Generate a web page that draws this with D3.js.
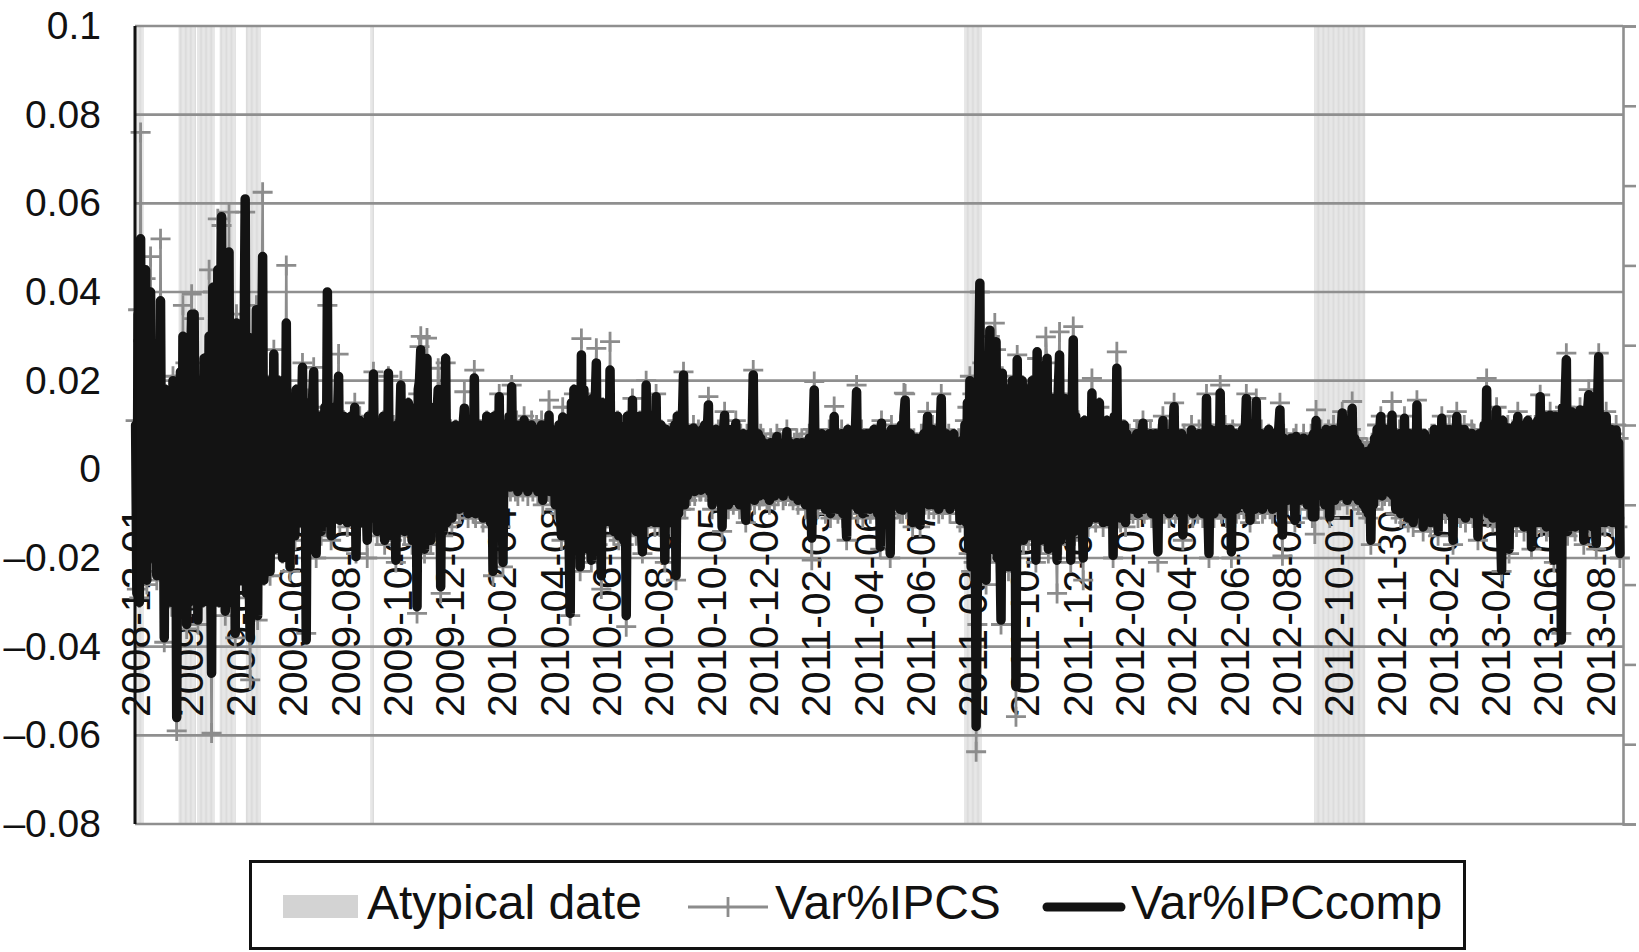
<!DOCTYPE html>
<html><head><meta charset="utf-8">
<script src="https://cdn.jsdelivr.net/npm/d3@7"></script>
<style>
body{margin:0;background:#fff}
svg{display:block}
text{font-family:"Liberation Sans",Arial,Helvetica,sans-serif;fill:#111}
</style>
</head><body>
<svg id="chart" width="1639" height="952"></svg>
<script>
// ---- tick labels (one every 42 trading days) ----
const tickLabels = ["2008-12-01","2009-02-03","2009-04-03","2009-06-05","2009-08-04","2009-10-02","2009-12-03",
"2010-02-04","2010-04-08","2010-06-07","2010-08-04","2010-10-05","2010-12-06","2011-02-03","2011-04-06",
"2011-06-07","2011-08-04","2011-10-04","2011-12-05","2012-02-01","2012-04-03","2012-06-05","2012-08-02",
"2012-10-01","2012-11-30","2013-02-01","2013-04-05","2013-06-05","2013-08-02"];
const tickEvery = 42;
const yTicks = [0.1,0.08,0.06,0.04,0.02,0,-0.02,-0.04,-0.06,-0.08];
const legendLabels = ["Atypical date","Var%IPCS","Var%IPCcomp"];

// trading-day indices flagged as atypical
const atypicalDays = [0,1,2,3,4,5,6,
35,36,37,38,39,40,41,42,43,44,45,46,47,48,50,51,52,53,54,55,56,57,58,59,60,61,62,63,
68,69,70,71,72,73,74,75,76,77,78,79,80,
89,90,91,92,93,94,95,96,97,98,99,100,
189,190,191,
666,667,668,669,670,671,672,673,674,675,676,677,678,679,
947,948,949,950,951,952,953,954,955,956,957,958,959,960,961,962,963,964,965,966,967,968,969,970,
971,972,973,974,975,976,977,978,979,980,981,982,983,984,985,986,987];

// Var%IPCcomp (daily)
const ipcComp = [
.010,-.028,.035,-.030,.052,-.022,.030,
-.018,.045,-.025,.028,-.015,.040,-.020,
.012,-.010,.020,-.024,.015,-.012,.038,
-.020,.010,-.038,.018,-.015,.008,-.025,
.012,-.030,.020,-.018,.015,-.056,.014,
-.028,.022,-.032,.030,-.020,.025,-.035,
.018,-.030,.022,.035,-.025,.035,-.020,
.015,-.034,.020,-.028,.012,-.030,.025,
-.022,.018,-.027,.030,-.015,-.046,.041,
-.020,.030,-.025,.045,-.030,.020,.057,
-.028,.035,-.032,.025,-.020,.049,-.030,
.028,-.025,.020,-.037,.033,-.018,.015,
-.025,.030,-.020,.025,.061,-.028,.030,
-.022,-.038,.028,-.020,.025,-.015,.036,
-.033,.022,-.018,.020,.048,-.025,.018,
-.015,.020,-.012,-.023,.015,-.010,.026,
-.018,.015,-.012,.020,-.015,.010,-.020,
.018,-.012,.033,-.015,.012,-.022,.015,
-.010,.012,-.015,.018,-.008,.010,-.012,
.008,.023,-.010,.012,-.0385,.015,-.008,
.012,-.010,.015,.022,-.012,-.019,.010,
-.008,.012,-.014,.009,-.010,.014,-.012,
.040,-.010,.012,-.015,.008,-.010,.014,
-.008,.010,.021,-.0115,.008,-.010,.012,
-.008,.010,-.012,.008,-.006,.012,-.010,
.006,.014,-.0197,.009,-.008,.011,-.012,
.007,-.009,.010,-.006,-.016,.012,-.008,
.010,-.011,.0215,-.009,.008,-.014,.010,
-.012,.009,-.007,.012,-.016,.008,-.010,
.0217,-.012,.010,-.015,.009,-.008,-.0205,
.010,-.012,.008,.019,-.010,.012,-.014,
.009,-.011,.015,-.008,.012,-.016,.010,
-.012,.014,-.031,.018,.020,.027,-.015,
.012,-.018,.010,.025,-.014,.012,-.016,
.009,-.012,.014,-.010,.012,.018,.0145,
-.0265,.012,-.014,.010,.025,-.012,.010,
-.008,.009,-.011,.007,-.006,.010,-.008,
.006,-.009,.008,-.007,.010,.0138,-.008,
.007,-.010,.009,-.006,.011,-.009,.0206,
-.010,.008,-.007,.010,-.009,.006,-.011,
.009,-.008,.012,-.010,.007,-.012,.010,
-.023,.012,-.010,.008,-.014,.0164,-.012,
.008,-.021,.010,-.004,.009,-.003,.012,
-.004,.0186,-.003,.008,-.004,.010,-.005,
.006,-.002,.009,-.004,.0111,-.003,.007,
-.005,.008,-.002,.010,-.004,.006,-.003,
.009,-.005,.007,-.004,.010,-.007,.006,
-.003,.008,-.004,.0122,-.005,.007,-.004,
.006,-.008,.009,-.006,.010,-.009,-.015,
.0118,-.010,.008,-.012,.010,-.014,-.0325,
.015,-.012,.018,-.016,.012,-.010,.014,
-.022,.0258,-.015,.018,-.012,.015,-.018,
.012,-.010,-.0205,.016,-.012,.014,.024,
-.016,.012,-.010,-.024,.015,-.012,.010,
-.010,.012,-.008,.0224,-.012,.010,-.014,
.008,-.010,.012,-.015,.006,-.012,.0096,
-.016,.008,-.033,.012,-.010,.008,-.012,
.0156,-.010,.009,-.014,.011,-.008,.012,
-.012,-.0186,.010,-.009,.019,-.012,.008,
-.010,.012,-.008,.010,-.012,.0164,-.010,
.008,-.012,.010,-.008,.006,-.0205,.009,
-.010,.005,.0059,-.012,.008,-.009,.010,
-.024,.012,-.010,.008,-.008,.010,.0213,
-.008,.007,-.006,.009,-.005,.006,-.004,
.0093,-.005,.007,-.003,.008,-.004,-.0047,
.009,-.003,.010,-.004,.008,.0145,-.005,
.006,-.008,.007,-.006,.009,-.005,.008,
-.007,.005,-.013,.008,.0122,-.006,.007,
-.008,.006,-.005,.009,-.007,.006,.0104,
-.006,.005,-.008,.007,-.004,.008,-.006,
-.0115,.007,-.005,.008,-.006,.006,.0213,
-.007,.006,-.005,.008,-.006,.007,-.005,
.006,-.005,.005,-.006,.004,-.007,.006,
-.004,.005,-.006,.004,.0074,-.005,.006,
-.004,.005,-.006,.004,-.005,.0085,-.004,
.006,-.005,.004,-.006,.005,-.004,.006,
-.007,.005,-.004,.006,-.005,.004,-.008,
.006,-.005,.007,-.006,-.0155,.008,.0179,
-.006,.007,-.008,.005,-.006,.008,-.007,
.006,-.009,.007,-.005,.008,-.010,.006,
-.007,.0119,-.008,.006,-.009,.007,-.006,
.008,-.010,.006,-.008,-.0152,.009,-.007,
.006,-.008,.007,-.006,.008,.0175,-.009,
.007,-.006,.008,-.010,.006,-.007,.008,
-.007,.008,-.009,.006,-.008,.009,-.006,
.007,-.010,.008,-.0175,.0104,-.008,.007,
-.009,.006,-.010,.008,-.019,.009,-.007,
.008,-.006,.009,-.008,.007,-.009,.010,
-.0092,.012,.0156,-.008,.007,-.006,.008,
-.007,-.012,.006,-.008,.007,-.006,.005,
-.0126,.007,-.006,.008,-.007,.006,.0119,
-.008,.007,-.006,.009,-.008,.006,-.007,
.008,-.009,.007,.016,-.008,.006,-.007,
.008,-.006,.007,-.009,.006,-.007,.008,
-.006,.005,-.008,.006,-.0115,.005,.0066,
-.008,.010,-.012,.015,-.018,.020,-.022,
.018,-.020,.015,-.058,-.025,.022,.042,
-.020,.025,-.018,.020,-.025,.015,-.012,
.0314,-.018,.020,-.015,.022,.0288,-.020,
.018,-.015,-.034,.0217,-.018,.015,-.020,
.018,-.022,.012,-.015,.020,-.018,.015,
-.049,.0247,-.015,.018,-.012,.020,-.016,
.015,-.012,.018,-.015,.012,-.010,.020,
-.014,.016,-.0205,.0265,-.012,.014,-.016,
.018,-.010,.015,.022,.025,-.018,.012,
-.015,.016,-.012,.014,-.010,-.0205,.018,
.0258,-.016,.012,-.014,.016,-.012,.010,
-.015,.014,-.0205,.012,.0292,-.014,.012,
-.010,.010,-.012,.008,-.009,-.020,.011,
-.010,.009,-.012,.008,-.010,.0172,-.009,
.010,-.011,.008,-.008,.015,-.010,.009,
-.012,.008,-.009,.011,-.010,.008,-.012,
.010,-.0194,.012,-.008,.0228,-.010,.009,
-.011,.008,-.009,.010,-.012,.008,-.009,
.007,-.008,.006,-.009,.007,-.006,.008,
-.010,.006,-.007,.008,.0104,-.009,.006,
-.008,.007,-.006,.008,-.010,.006,-.007,
.008,-.009,-.0186,.007,-.008,.006,.011,
-.009,.007,-.006,.008,-.010,.006,-.007,
.008,.0141,-.009,.007,-.008,.006,-.010,
.008,-.0148,.007,-.008,.006,-.009,.007,
-.006,.0089,-.010,.006,-.008,.007,-.009,
.008,-.007,.006,-.010,.008,-.007,.016,
-.008,-.019,.009,-.008,.007,-.010,.008,
-.007,.009,-.008,.0172,-.009,.008,-.007,
.009,-.010,.007,-.008,.009,-.0186,.008,
-.007,.008,-.009,.006,-.008,.007,-.006,
.009,-.008,.007,.016,-.009,.007,-.0115,
.008,-.007,.006,-.009,.0153,-.008,.007,
-.006,.008,-.009,.007,-.008,.006,-.007,
.009,-.008,.006,-.009,.008,-.007,.006,
-.008,.009,.0134,-.008,-.0148,.007,-.006,
.006,-.007,.005,-.006,.007,-.005,.006,
-.0115,.0074,-.006,.005,-.007,.006,-.005,
.007,-.006,.005,-.008,.006,-.005,.007,
-.0107,.008,-.0107,.011,-.006,.007,-.005,
.008,-.006,.007,-.008,.009,-.006,.008,
-.0107,.007,-.006,.009,-.007,.008,-.006,
.007,-.006,.008,.0127,-.005,.007,-.004,
-.007,.009,-.005,.008,.0137,-.006,.007,
-.005,.006,-.007,.005,-.006,.004,-.008,
.003,-.009,.004,-.010,.003,-.016,.005,
-.008,.007,-.006,.009,-.005,.008,.0119,
-.006,.007,-.005,.009,-.004,.008,-.005,
-.0054,.0122,-.006,.008,-.009,.006,-.007,
.008,-.010,.007,-.008,.0115,-.009,.006,
-.011,.008,-.007,.006,-.012,.008,-.009,
.0145,-.010,.007,-.008,.006,-.013,.008,
-.009,.005,-.011,.0066,-.012,.007,-.008,
.009,-.010,.006,-.014,.008,-.009,.0115,
-.008,.007,-.009,.008,-.007,.009,-.010,
.006,-.016,.008,-.007,.0119,-.009,.007,
-.010,.008,-.006,.009,-.011,.007,-.008,
.006,-.009,.0081,-.010,.007,-.008,.006,
-.0152,.008,-.009,.007,-.008,.010,-.009,
.0179,-.010,.008,-.009,.010,-.011,.009,
-.010,.0134,-.009,.010,-.012,-.0227,.011,
-.010,.008,-.012,.0093,-.018,.009,-.011,
.008,-.010,.010,-.012,.0119,-.010,.009,
-.011,.008,-.013,.010,-.009,.011,-.012,
.009,-.0175,.010,-.011,.009,-.012,.011,
-.010,.0164,-.012,.010,-.011,.012,-.013,
.010,-.012,.0122,-.010,.011,-.0205,.012,
-.011,.010,-.013,.012,-.0385,.014,-.012,
.015,.0247,-.014,.012,-.010,.013,-.012,
.011,-.013,.012,-.010,.011,.0134,-.012,
.010,-.016,.012,-.011,.013,.0168,-.012,
.011,-.013,.012,-.010,-.0167,.014,.0254,
-.012,.010,-.011,.009,-.012,.0119,-.010,
.008,-.011,.009,-.012,.007,-.010,.0089,
-.012,.006,-.019
];

// Var%IPCS (daily)
const ipcs = [
.011,-.027,.036,-.029,.076,-.023,.029,
-.019,.043,-.026,.027,-.016,.048,-.019,
.013,-.009,.019,-.025,.016,-.011,.052,
-.021,.009,-.039,.017,-.016,.009,-.024,
.011,-.031,.021,-.017,.014,-.059,.015,
-.027,.021,-.033,.037,-.019,.024,-.036,
.017,-.031,.021,.0395,-.024,.034,-.021,
.016,-.035,.019,-.027,.013,-.029,.024,
-.023,.017,-.028,.045,-.014,-.0595,.040,
-.021,.029,-.026,.0565,-.029,.019,.055,
-.027,.034,-.033,.024,-.021,.058,-.029,
.027,-.026,.019,-.038,.035,-.017,.014,
-.024,.029,-.021,.024,.058,-.029,.029,
-.021,-.0475,.027,-.021,.024,-.014,.037,
-.034,.021,-.019,.019,.0625,-.024,.017,
-.016,.019,-.013,-.024,.014,-.011,.027,
-.017,.014,-.013,.019,-.016,.011,-.019,
.017,-.013,.046,-.014,.011,-.023,.014,
-.011,.011,-.016,.017,-.009,.011,-.011,
.009,.024,-.009,.011,-.037,.016,-.009,
.011,-.011,.014,.023,-.013,-.020,.009,
-.009,.011,-.015,.010,-.009,.013,-.013,
.037,-.011,.011,-.016,.009,-.009,.013,
-.009,.009,.026,-.012,.009,-.009,.011,
-.009,.009,-.013,.009,-.007,.011,-.011,
.007,.015,-.019,.008,-.009,.012,-.011,
.008,-.010,.009,-.007,-.020,.011,-.009,
.009,-.012,.022,-.010,.007,-.015,.009,
-.013,.010,-.008,.011,-.017,.009,-.009,
.021,-.013,.009,-.016,.010,-.009,-.021,
.009,-.013,.009,.020,-.011,.011,-.015,
.010,-.012,.014,-.009,.011,-.017,.009,
-.013,.013,-.0325,.017,.0277,.030,-.016,
.011,-.019,.009,.0296,-.015,.011,-.017,
.010,-.013,.013,-.011,.011,.0228,.014,
-.028,.011,-.015,.009,.024,-.013,.009,
-.009,.008,-.012,.008,-.007,.009,-.009,
.007,-.010,.007,-.008,.009,.0175,-.009,
.008,-.011,.008,-.007,.010,-.010,.0224,
-.011,.007,-.008,.009,-.010,.007,-.012,
.008,-.009,.011,-.011,.008,-.013,.009,
-.024,.011,-.011,.007,-.015,.017,-.013,
.009,-.022,.009,-.005,.010,-.004,.011,
-.005,.019,-.004,.009,-.005,.011,-.006,
.007,-.003,.010,-.005,.012,-.004,.008,
-.006,.009,-.003,.011,-.005,.007,-.004,
.010,-.006,.008,-.005,.011,-.008,.007,
-.004,.009,-.005,.0156,-.006,.008,-.005,
.007,-.009,.008,-.007,.009,-.010,-.016,
.014,-.011,.007,-.013,.009,-.015,-.033,
.014,-.013,.017,-.017,.011,-.011,.013,
-.023,.0295,-.016,.017,-.013,.014,-.019,
.011,-.011,-.021,.015,-.013,.013,.0273,
-.017,.011,-.011,-.027,.014,-.013,.009,
-.011,.011,-.009,.0288,-.013,.009,-.015,
.009,-.011,.011,-.016,.007,-.013,.010,
-.017,.009,-.0355,.011,-.011,.009,-.013,
.016,-.011,.008,-.015,.010,-.009,.011,
-.013,-.019,.009,-.010,.020,-.013,.009,
-.011,.011,-.009,.009,-.013,.017,-.011,
.007,-.013,.009,-.009,.007,-.021,.008,
-.011,.006,.0082,-.013,.007,-.010,.009,
-.025,.011,-.011,.007,-.009,.009,.022,
-.009,.008,-.007,.008,-.006,.007,-.005,
.010,-.006,.008,-.004,.009,-.005,-.005,
.008,-.004,.009,-.005,.009,.0164,-.006,
.007,-.009,.006,-.007,.008,-.006,.009,
-.008,.006,-.014,.007,.013,-.007,.008,
-.009,.007,-.006,.008,-.008,.007,.011,
-.007,.006,-.009,.008,-.005,.007,-.007,
-.012,.008,-.006,.007,-.007,.007,.0224,
-.008,.007,-.006,.007,-.007,.008,-.006,
.007,-.006,.006,-.007,.005,-.008,.007,
-.005,.006,-.007,.005,.008,-.006,.007,
-.005,.006,-.007,.005,-.006,.009,-.005,
.007,-.006,.005,-.007,.006,-.005,.007,
-.008,.006,-.005,.007,-.006,.005,-.009,
.007,-.006,.008,-.007,-.0205,.009,.0198,
-.007,.008,-.009,.006,-.007,.007,-.008,
.007,-.010,.006,-.006,.009,-.011,.007,
-.008,.0142,-.009,.007,-.010,.006,-.007,
.009,-.011,.007,-.009,-.016,.008,-.008,
.007,-.009,.006,-.007,.009,.019,-.010,
.006,-.007,.009,-.011,.007,-.008,.007,
-.008,.007,-.010,.007,-.009,.008,-.007,
.008,-.011,.007,-.018,.011,-.009,.008,
-.010,.007,-.011,.007,-.020,.010,-.008,
.007,-.007,.008,-.009,.008,-.010,.009,
-.010,.0172,.017,-.009,.008,-.007,.007,
-.008,-.013,.007,-.009,.006,-.007,.006,
-.013,.008,-.007,.007,-.008,.007,.013,
-.009,.006,-.007,.010,-.009,.007,-.008,
.009,-.010,.006,.017,-.009,.007,-.008,
.007,-.007,.008,-.010,.007,-.008,.007,
-.007,.006,-.009,.007,-.012,.006,.007,
-.009,.011,-.013,.014,-.019,.021,-.023,
.017,-.021,.014,-.0637,-.035,.021,.040,
-.021,.024,-.019,.019,-.026,.014,-.013,
.030,-.019,.019,-.016,.033,.027,-.021,
.017,-.016,-.035,.021,-.019,.014,-.021,
.017,-.023,.011,-.016,.019,-.019,.014,
-.0558,.0258,-.016,.017,-.013,.019,-.017,
.014,-.013,.017,-.016,.011,-.011,.019,
-.015,.015,-.021,.025,-.013,.013,-.017,
.017,-.011,.014,.0299,.024,-.019,.011,
-.016,.015,-.013,.013,-.011,-.028,.017,
.031,-.017,.011,-.015,.015,-.013,.009,
-.016,.013,-.021,.011,.0322,-.015,.011,
-.011,.009,-.013,.007,-.010,-.025,.010,
-.011,.008,-.013,.007,-.011,.0205,-.010,
.009,-.012,.007,-.009,.014,-.011,.008,
-.013,.007,-.010,.010,-.011,.007,-.013,
.009,-.020,.011,-.009,.0265,-.011,.008,
-.012,.007,-.010,.009,-.013,.007,-.010,
.008,-.009,.007,-.010,.006,-.007,.009,
-.011,.007,-.008,.007,.011,-.010,.007,
-.009,.006,-.007,.009,-.011,.007,-.008,
.007,-.010,-.021,.008,-.009,.007,.012,
-.010,.006,-.007,.009,-.011,.007,-.008,
.007,.015,-.010,.008,-.009,.007,-.011,
.007,-.016,.008,-.009,.007,-.010,.006,
-.007,.010,-.011,.007,-.009,.006,-.010,
.009,-.008,.007,-.011,.007,-.008,.017,
-.009,-.020,.008,-.009,.008,-.011,.007,
-.008,.010,-.009,.019,-.010,.007,-.008,
.010,-.011,.008,-.009,.008,-.020,.009,
-.008,.007,-.010,.007,-.009,.006,-.007,
.010,-.009,.006,.017,-.010,.008,-.012,
.007,-.008,.007,-.010,.016,-.009,.006,
-.007,.009,-.010,.006,-.009,.007,-.008,
.008,-.009,.007,-.010,.007,-.008,.007,
-.009,.008,.015,-.009,-.0195,.008,-.007,
.007,-.008,.006,-.007,.006,-.006,.007,
-.012,.008,-.007,.006,-.008,.005,-.006,
.008,-.007,.006,-.009,.005,-.006,.008,
-.011,.007,-.0146,.0134,-.007,.006,-.006,
.009,-.007,.006,-.009,.008,-.007,.009,
-.011,.006,-.007,.010,-.008,.007,-.007,
.008,-.007,.007,.013,-.006,.008,-.005,
-.008,.008,-.006,.009,.0153,-.007,.006,
-.006,.007,-.008,.004,-.007,.005,-.009,
.004,-.010,.005,-.011,.004,-.017,.006,
-.009,.006,-.007,.010,-.006,.007,.012,
-.007,.008,-.006,.008,-.005,.009,-.006,
-.006,.0153,-.007,.007,-.010,.007,-.008,
.009,-.011,.006,-.009,.012,-.010,.007,
-.012,.007,-.008,.007,-.013,.007,-.010,
.0156,-.011,.008,-.009,.007,-.014,.007,
-.010,.006,-.012,.007,-.013,.008,-.009,
.008,-.011,.007,-.015,.009,-.010,.012,
-.009,.008,-.010,.007,-.008,.010,-.011,
.007,-.017,.007,-.008,.013,-.010,.008,
-.011,.007,-.007,.010,-.012,.008,-.009,
.007,-.010,.009,-.011,.008,-.009,.007,
-.016,.007,-.010,.008,-.009,.009,-.010,
.0205,-.011,.007,-.010,.011,-.012,.008,
-.011,.014,-.010,.009,-.013,-.023,.010,
-.011,.009,-.013,.010,-.019,.008,-.012,
.009,-.011,.009,-.013,.013,-.011,.008,
-.012,.009,-.014,.009,-.010,.010,-.013,
.010,-.018,.009,-.012,.010,-.013,.010,
-.011,.0168,-.013,.009,-.012,.011,-.014,
.011,-.013,.013,-.011,.010,-.021,.011,
-.012,.011,-.014,.011,-.037,.013,-.013,
.014,.0262,-.015,.011,-.011,.012,-.013,
.010,-.014,.011,-.011,.010,.014,-.013,
.011,-.017,.011,-.012,.012,.018,-.013,
.010,-.014,.011,-.011,-.018,.013,.0262,
-.013,.009,-.012,.010,-.013,.013,-.011,
.009,-.012,.008,-.013,.008,-.011,.010,
-.013,.007,-.020
];

// ---------------- drawing ----------------
const svg = d3.select("#chart");
const plotL = 135, plotR = 1623, plotT = 26, plotB = 824;
const nCat = ipcComp.length + 2;
const x = d3.scaleLinear().domain([-0.5, nCat - 0.5]).range([plotL, plotR]);
const y = d3.scaleLinear().domain([-0.08, 0.1]).range([plotB, plotT]);
const step = x(1) - x(0);
const gridCol = "#8f8f8f";

// atypical date columns
svg.append("g").selectAll("rect").data(atypicalDays).join("rect")
  .attr("x", d => x(d) - step * 0.45).attr("width", step * 0.9)
  .attr("y", y(0.1)).attr("height", y(-0.08) - y(0.1))
  .attr("fill", "#dcdcdc");

// gridlines
svg.append("g").selectAll("line").data(yTicks).join("line")
  .attr("x1", plotL).attr("x2", plotR)
  .attr("y1", d => y(d)).attr("y2", d => y(d))
  .attr("stroke", gridCol).attr("stroke-width", 2.6);

// secondary (right) axis, unlabeled
const y2 = d3.scaleLinear().domain([0, 1]).range([plotB, plotT]);
const ra = svg.append("g").attr("transform", `translate(${plotR},0)`)
  .call(d3.axisRight(y2).ticks(10).tickSize(13).tickSizeOuter(13).tickFormat(""));
ra.select(".domain").attr("stroke", gridCol).attr("stroke-width", 2.6);
ra.selectAll(".tick line").attr("stroke", gridCol).attr("stroke-width", 2.6);

// x labels (rotated)
svg.append("g").selectAll("text").data(tickLabels).join("text")
  .attr("transform", (d, k) => `translate(${x(k * tickEvery)},717) rotate(-90)`)
  .attr("dy", "0.36em").attr("font-size", 41).text(d => d);

// series
const line = d3.line().x((d, i) => x(i)).y(d => y(d));
svg.append("path").datum(ipcs).attr("d", line)
  .attr("fill", "none").attr("stroke", "#8c8c8c").attr("stroke-width", 2.6);
svg.append("g").selectAll("path").data(ipcs).join("path")
  .attr("transform", (d, i) => `translate(${x(i)},${y(d)})`)
  .attr("d", "M-10,0H10M0,-10V10")
  .attr("stroke", "#8c8c8c").attr("stroke-width", 2.8).attr("fill", "none");
svg.append("path").datum(ipcComp).attr("d", line)
  .attr("fill", "none").attr("stroke", "#131313").attr("stroke-width", 9.5)
  .attr("stroke-linejoin", "round").attr("stroke-linecap", "round");

// left axis line
svg.append("line").attr("x1", plotL).attr("x2", plotL).attr("y1", plotT).attr("y2", plotB)
  .attr("stroke", "#111").attr("stroke-width", 3);

// y labels
const fmtY = v => v === 0 ? "0" : (v < 0 ? "\u2013" : "") + Math.abs(v).toString();
const ya = svg.append("g").attr("transform", "translate(101,0)")
  .call(d3.axisLeft(y).tickValues(yTicks).tickSize(0).tickPadding(0).tickFormat(fmtY));
ya.select(".domain").remove();
ya.attr("font-size", 39).attr("font-family", "Liberation Sans, Arial, sans-serif").attr("color", "#111");

// legend
const lg = svg.append("g");
lg.append("rect").attr("x", 250.5).attr("y", 861.5).attr("width", 1214).attr("height", 87)
  .attr("fill", "#fff").attr("stroke", "#111").attr("stroke-width", 3);
lg.append("rect").attr("x", 283).attr("y", 895).attr("width", 75).attr("height", 23).attr("fill", "#d3d3d3");
lg.append("text").attr("x", 367).attr("y", 919).attr("font-size", 48).text(legendLabels[0]);
lg.append("line").attr("x1", 688).attr("x2", 768).attr("y1", 907).attr("y2", 907)
  .attr("stroke", "#8c8c8c").attr("stroke-width", 2.8);
lg.append("path").attr("d", "M728,897V917").attr("stroke", "#8c8c8c").attr("stroke-width", 2.8);
lg.append("text").attr("x", 775).attr("y", 919).attr("font-size", 48).text(legendLabels[1]);
lg.append("line").attr("x1", 1047).attr("x2", 1121).attr("y1", 907).attr("y2", 907)
  .attr("stroke", "#131313").attr("stroke-width", 9).attr("stroke-linecap", "round");
lg.append("text").attr("x", 1131).attr("y", 919).attr("font-size", 48).text(legendLabels[2]);
</script>
</body></html>
